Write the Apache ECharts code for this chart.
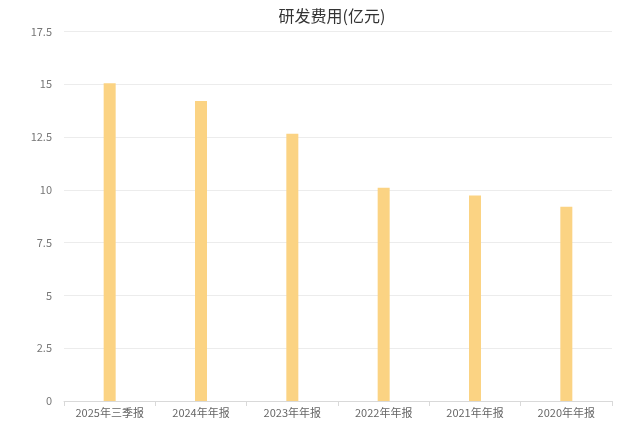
<!DOCTYPE html>
<html>
<head>
<meta charset="utf-8">
<style>
  html, body { margin: 0; padding: 0; background: #fff; }
  #chart { width: 640px; height: 428px; }
</style>
<script src="https://cdn.jsdelivr.net/npm/echarts@6/dist/echarts.min.js"></script>
</head>
<body>
<div id="chart"></div>
<script>
const categories = ["2025年三季报", "2024年年报", "2023年年报", "2022年年报", "2021年年报", "2020年年报"];
const rdExpense = [15.05, 14.21, 12.66, 10.10, 9.73, 9.20];
const yTicks = [0, 2.5, 5, 7.5, 10, 12.5, 15, 17.5];

const chart = echarts.init(document.getElementById("chart"), null, { renderer: "canvas" });
chart.setOption({
  animation: false,
  textStyle: { fontFamily: "'Noto Sans CJK SC', 'Noto Sans', sans-serif" },
  title: {
    text: "研发费用(亿元)",
    left: 327,
    textAlign: "center",
    top: 3,
    textStyle: { fontSize: 16, fontWeight: "normal", color: "#333" }
  },
  grid: { left: 64, right: 28, top: 31.5, bottom: 27 },
  xAxis: {
    type: "category",
    data: categories,
    axisLine: { lineStyle: { color: "#d9d9d9" } },
    axisTick: { show: true, lineStyle: { color: "#d9d9d9" }, length: 5 },
    axisLabel: { color: "#666", fontSize: 11, margin: 6 }
  },
  yAxis: {
    type: "value",
    min: yTicks[0],
    max: yTicks[yTicks.length - 1],
    interval: 2.5,
    axisLine: { show: false },
    axisTick: { show: false },
    axisLabel: { color: "#777", fontSize: 11, margin: 12 },
    splitLine: { lineStyle: { color: "#ececec" } }
  },
  series: [{
    type: "bar",
    data: rdExpense,
    barWidth: 12,
    itemStyle: { color: "#fbd383" }
  }]
});
</script>
</body>
</html>
